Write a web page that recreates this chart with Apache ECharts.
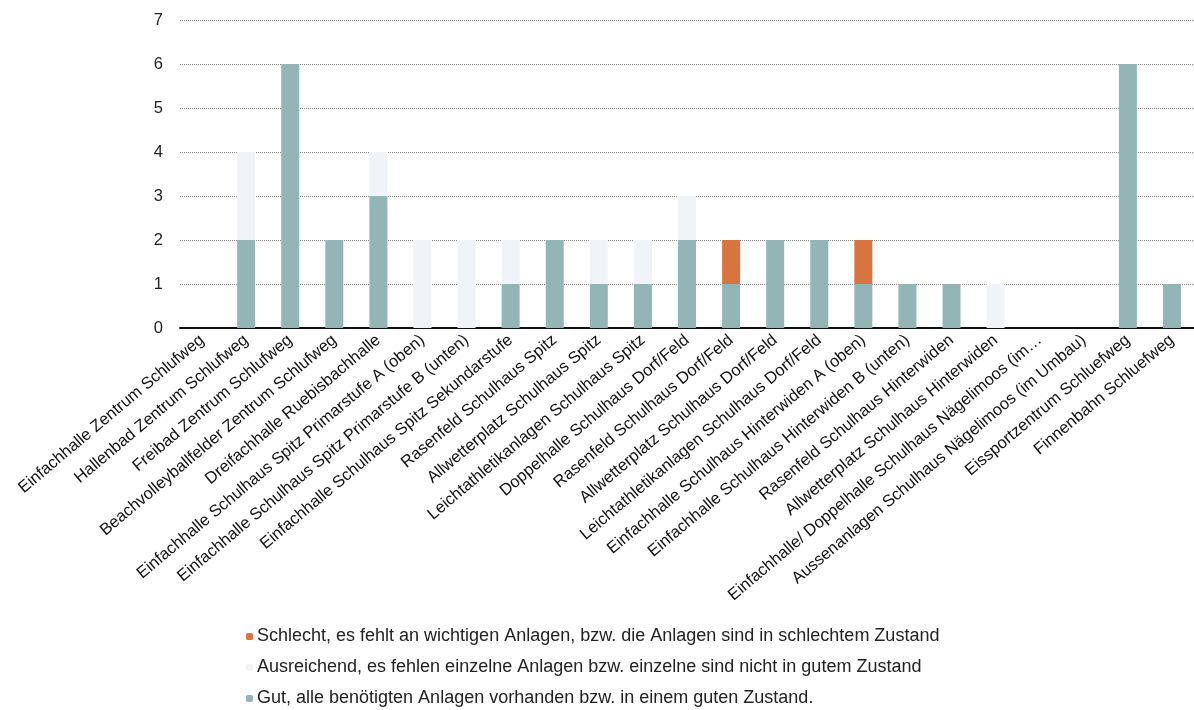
<!DOCTYPE html>
<html>
<head>
<meta charset="utf-8">
<script src="https://cdn.jsdelivr.net/npm/echarts@6/dist/echarts.min.js"></script>
<style>
  html, body { margin: 0; padding: 0; background: #fff; }
  #chart { width: 1194px; height: 710px; }
</style>
</head>
<body>
<div id="chart"></div>
<script>
const categories = [
  'Einfachhalle Zentrum Schlufweg',
  'Hallenbad Zentrum Schlufweg',
  'Freibad Zentrum Schlufweg',
  'Beachvolleyballfelder Zentrum Schlufweg',
  'Dreifachhalle Ruebisbachhalle',
  'Einfachhalle Schulhaus Spitz Primarstufe A (oben)',
  'Einfachhalle Schulhaus Spitz Primarstufe B (unten)',
  'Einfachhalle Schulhaus Spitz Sekundarstufe',
  'Rasenfeld Schulhaus Spitz',
  'Allwetterplatz Schulhaus Spitz',
  'Leichtathletikanlagen Schulhaus Spitz',
  'Doppelhalle Schulhaus Dorf/Feld',
  'Rasenfeld Schulhaus Dorf/Feld',
  'Allwetterplatz Schulhaus Dorf/Feld',
  'Leichtathletikanlagen Schulhaus Dorf/Feld',
  'Einfachhalle Schulhaus Hinterwiden A (oben)',
  'Einfachhalle Schulhaus Hinterwiden B (unten)',
  'Rasenfeld Schulhaus Hinterwiden',
  'Allwetterplatz Schulhaus Hinterwiden',
  'Einfachhalle/ Doppelhalle Schulhaus Nägelimoos (im…',
  'Aussenanlagen Schulhaus Nägelimoos (im Umbau)',
  'Eissportzentrum Schluefweg',
  'Finnenbahn Schluefweg'
];

const gut         = [0, 2, 6, 2, 3, 0, 0, 1, 2, 1, 1, 2, 1, 2, 2, 1, 1, 1, 0, 0, 0, 6, 1];
const ausreichend = [0, 2, 0, 0, 1, 2, 2, 1, 0, 1, 1, 1, 0, 0, 0, 0, 0, 0, 1, 0, 0, 0, 0];
const schlecht    = [0, 0, 0, 0, 0, 0, 0, 0, 0, 0, 0, 0, 1, 0, 0, 1, 0, 0, 0, 0, 0, 0, 0];

const yTicks = [0, 1, 2, 3, 4, 5, 6, 7];

const names = {
  schlecht: 'Schlecht, es fehlt an wichtigen Anlagen, bzw. die Anlagen sind in schlechtem Zustand',
  ausreichend: 'Ausreichend, es fehlen einzelne Anlagen bzw. einzelne sind nicht in gutem Zustand',
  gut: 'Gut, alle benötigten Anlagen vorhanden bzw. in einem guten Zustand.'
};

const chart = echarts.init(document.getElementById('chart'));

const option = {
  animation: false,
  textStyle: { fontFamily: 'Liberation Sans, Arial, sans-serif' },
  legend: {
    orient: 'vertical',
    left: 246,
    top: 626,
    padding: 0,
    itemWidth: 7,
    itemHeight: 7,
    itemGap: 10,
    data: [names.schlecht, names.ausreichend, names.gut],
    textStyle: { fontSize: 18, lineHeight: 21, color: '#222', padding: [0, 0, 0, -1] }
  },
  grid: {
    left: 180,
    right: 0,
    top: 20,
    bottom: 382
  },
  xAxis: {
    type: 'category',
    data: categories,
    axisLine: { lineStyle: { color: '#111', width: 2 } },
    axisTick: { show: false },
    axisLabel: {
      interval: 0,
      rotate: 40,
      fontSize: 16.5,
      color: '#111',
      margin: 10
    }
  },
  yAxis: {
    type: 'value',
    min: yTicks[0],
    max: yTicks[yTicks.length - 1],
    interval: 1,
    axisLine: { show: false },
    axisTick: { show: false },
    axisLabel: { fontSize: 16.5, color: '#222', margin: 17 },
    splitLine: { lineStyle: { type: 'dotted', color: '#888', width: 1 } }
  },
  series: [
    {
      name: names.gut,
      type: 'bar',
      stack: 'total',
      barWidth: 18,
      itemStyle: { color: '#93b5b5' },
      data: gut
    },
    {
      name: names.ausreichend,
      type: 'bar',
      stack: 'total',
      barWidth: 18,
      itemStyle: { color: '#f0f4f8' },
      data: ausreichend
    },
    {
      name: names.schlecht,
      type: 'bar',
      stack: 'total',
      barWidth: 18,
      itemStyle: { color: '#d8743f' },
      data: schlecht
    }
  ]
};

chart.setOption(option);
</script>
</body>
</html>
